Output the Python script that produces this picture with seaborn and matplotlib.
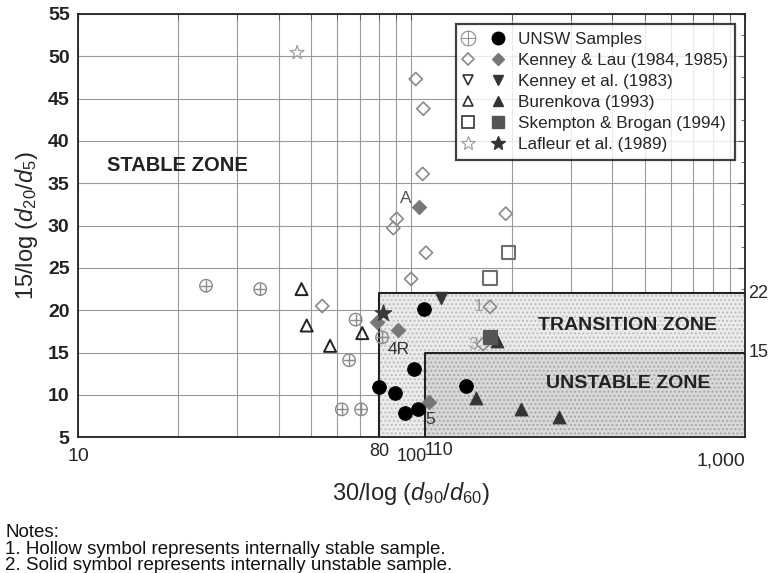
import matplotlib
matplotlib.use("Agg")
import matplotlib.pyplot as plt
import seaborn as sns
from matplotlib.patches import Polygon
from matplotlib.lines import Line2D
from matplotlib.legend_handler import HandlerTuple
from matplotlib.ticker import LogLocator, MultipleLocator, NullFormatter
import matplotlib.transforms as mtransforms

sns.set_style("white")
plt.rcParams['font.family'] = ['Liberation Sans', 'DejaVu Sans']
plt.rcParams['mathtext.fontset'] = 'custom'
plt.rcParams['mathtext.it'] = 'Liberation Sans:italic'
plt.rcParams['mathtext.rm'] = 'Liberation Sans'

# data
unsw_hollow_x = [24.2, 35.2, 68.0, 81.6, 65.0, 61.8, 70.6]
unsw_hollow_y = [22.9, 22.5, 18.9, 16.8, 14.1, 8.3, 8.3]
unsw_solid_x = [109, 102, 79.7, 89.2, 95.6, 104.4, 146]
unsw_solid_y = [20.1, 13.1, 10.9, 10.2, 7.9, 8.3, 11.0]
kl_hollow_x = [54, 99.7, 110.5, 103, 108.5, 108, 90.3, 88.2, 191.7, 172, 164]
kl_hollow_y = [20.5, 23.7, 26.8, 47.3, 43.8, 36.1, 30.8, 29.7, 31.4, 20.4, 16.0]
kl_solid_x = [105.5, 78.6, 91.3, 113]
kl_solid_y = [32.2, 18.6, 17.7, 9.2]
ke_solid_x = [122.6]
ke_solid_y = [21.4]
bu_hollow_x = [46.8, 48.5, 57, 71.2]
bu_hollow_y = [22.5, 18.2, 15.8, 17.3]
bu_solid_x = [180, 156, 213, 277]
bu_solid_y = [16.4, 9.7, 8.4, 7.4]
sb_hollow_x = [195, 172]
sb_hollow_y = [26.8, 23.8]
sb_solid_x = [172]
sb_solid_y = [16.9]
la_hollow_x = [45.4]
la_hollow_y = [50.4]
la_solid_x = [82.3]
la_solid_y = [19.7]

# zone limits
transition_x = 80
unstable_x = 110
transition_y = 22
unstable_y = 15
x_min, x_max = 10, 1000
y_min, y_max = 5, 55

fig = plt.figure(figsize=(7.75, 5.73), dpi=100)
ax = fig.add_axes([0.1006, 0.2368, 0.8607, 0.7391])
ax.set_xscale('log')
ax.set_xlim(x_min, x_max)
ax.set_ylim(y_min, y_max)

# grid
ax.xaxis.set_major_locator(LogLocator(base=10))
ax.xaxis.set_minor_locator(LogLocator(base=10, subs=range(2, 10)))
ax.xaxis.set_major_formatter(NullFormatter())
ax.xaxis.set_minor_formatter(NullFormatter())
ax.yaxis.set_major_locator(MultipleLocator(5))
ax.yaxis.set_minor_locator(MultipleLocator(2.5))
ax.grid(True, which='both', axis='x', color='#9a9a9a', lw=0.8)
ax.grid(True, which='major', axis='y', color='#9a9a9a', lw=0.8)
ax.tick_params(axis='both', which='both', direction='in', top=True, right=True,
               color='#555555')
ax.tick_params(axis='y', which='major', length=5, labelsize=14, pad=6)
ax.tick_params(axis='y', which='minor', length=3)
ax.tick_params(axis='x', which='both', length=4)
for t in ax.get_yticklabels():
    t.set_fontweight('bold')
    t.set_color('#222222')
for s in ax.spines.values():
    s.set_color('#222222')
    s.set_linewidth(1.3)

# zones
trans = Polygon([(transition_x, y_min), (transition_x, transition_y), (x_max, transition_y),
                 (x_max, y_min)], closed=True, facecolor='#ececec', edgecolor='#bdbdbd',
                hatch='....', lw=0, zorder=1.5)
ax.add_patch(trans)
unst = Polygon([(unstable_x, y_min), (unstable_x, unstable_y), (x_max, unstable_y),
                (x_max, y_min)], closed=True, facecolor='#d9d9d9', edgecolor='#a8a8a8',
               hatch='....', lw=0, zorder=1.6)
ax.add_patch(unst)
ax.plot([transition_x, transition_x, x_max], [y_min, transition_y, transition_y],
        color='#222222', lw=1.5, zorder=1.8)
ax.plot([unstable_x, unstable_x, x_max], [y_min, unstable_y, unstable_y],
        color='#222222', lw=1.5, zorder=1.8)

ax.text(0.044, 0.643, 'STABLE ZONE', transform=ax.transAxes, fontsize=14.5,
        fontweight='bold', color='#222222', va='center')
ax.text(0.958, 0.265, 'TRANSITION ZONE', transform=ax.transAxes, fontsize=14,
        fontweight='bold', color='#222222', va='center', ha='right')
ax.text(0.948, 0.126, 'UNSTABLE ZONE', transform=ax.transAxes, fontsize=14,
        fontweight='bold', color='#222222', va='center', ha='right')

# points
gh = '#8a8a8a'
sns.scatterplot(x=unsw_hollow_x, y=unsw_hollow_y, marker='o', s=80, facecolor='none',
                edgecolor=gh, linewidth=1.0, ax=ax, zorder=3)
sns.scatterplot(x=unsw_hollow_x, y=unsw_hollow_y, marker='+', s=80, color=gh,
                linewidth=1.0, ax=ax, zorder=3)
sns.scatterplot(x=unsw_solid_x, y=unsw_solid_y, marker='o', s=95, color='black',
                edgecolor='black', ax=ax, zorder=4)
sns.scatterplot(x=kl_hollow_x, y=kl_hollow_y, marker='D', s=45, facecolor='none',
                edgecolor=gh, linewidth=1.2, ax=ax, zorder=3)
sns.scatterplot(x=kl_solid_x, y=kl_solid_y, marker='D', s=55, color='#777777',
                edgecolor='#777777', ax=ax, zorder=4)
sns.scatterplot(x=ke_solid_x, y=ke_solid_y, marker='v', s=80, color='#333333',
                edgecolor='#333333', ax=ax, zorder=4)
sns.scatterplot(x=bu_hollow_x, y=bu_hollow_y, marker='^', s=75, facecolor='none',
                edgecolor='#222222', linewidth=1.4, ax=ax, zorder=3)
sns.scatterplot(x=bu_solid_x, y=bu_solid_y, marker='^', s=85, color='#333333',
                edgecolor='#333333', ax=ax, zorder=4)
sns.scatterplot(x=sb_hollow_x, y=sb_hollow_y, marker='s', s=90, facecolor='none',
                edgecolor='#6e6e6e', linewidth=1.5, ax=ax, zorder=3)
sns.scatterplot(x=sb_solid_x, y=sb_solid_y, marker='s', s=100, color='#555555',
                edgecolor='#555555', ax=ax, zorder=4)
sns.scatterplot(x=la_hollow_x, y=la_hollow_y, marker='*', s=110, facecolor='none',
                edgecolor='#a0a0a0', linewidth=0.9, ax=ax, zorder=3)
sns.scatterplot(x=la_solid_x, y=la_solid_y, marker='*', s=150, color='#3a3a3a',
                edgecolor='#3a3a3a', ax=ax, zorder=4)

# point labels
def lab(txt, x, y, dx, dy, c):
    ax.annotate(txt, (x, y), xytext=(dx, dy), textcoords='offset points', fontsize=12.5,
                color=c, ha='center', va='center', zorder=5)

lab('A', kl_solid_x[0], kl_solid_y[0], -10, 6, '#555555')
lab('4R', kl_solid_x[2], kl_solid_y[2], 0, -14, '#333333')
lab('5', kl_solid_x[3], kl_solid_y[3], 1, -13, '#333333')
lab('1', kl_hollow_x[9], kl_hollow_y[9], -8, 0, '#9a9a9a')
lab('3', kl_hollow_x[10], kl_hollow_y[10], -7, 0, '#9a9a9a')

# tick-like labels
xt = mtransforms.blended_transform_factory(ax.transData, ax.transAxes)
ax.text(10, -0.045, '10', transform=xt, ha='center', va='center', fontsize=14)
ax.text(1000, -0.057, '1,000', transform=xt, ha='right', va='center', fontsize=14)
ax.text(transition_x, -0.033, '80', transform=xt, ha='center', va='center', fontsize=13)
ax.text(100, -0.046, '100', transform=xt, ha='center', va='center', fontsize=13)
ax.text(unstable_x + 11, -0.03, '110', transform=xt, ha='center', va='center', fontsize=13)
yt = mtransforms.blended_transform_factory(ax.transAxes, ax.transData)
ax.text(1.005, transition_y, '22', transform=yt, ha='left', va='center', fontsize=13)
ax.text(1.005, unstable_y, '15', transform=yt, ha='left', va='center', fontsize=13)

ax.set_xlabel(r'30/log ($d_{90}$/$d_{60}$)', fontsize=17, labelpad=27)
ax.set_ylabel(r'15/log ($d_{20}$/$d_{5}$)', fontsize=17, labelpad=6)

# legend
def mk(m, fc, ec, ms, mew=1.0):
    return Line2D([], [], ls='none', marker=m, markerfacecolor=fc, markeredgecolor=ec,
                  markersize=ms, markeredgewidth=mew)

handles = [
    (mk(r'$\oplus$', gh, gh, 11, 0.3), mk('o', 'black', 'black', 9)),
    (mk('D', 'none', gh, 6.5, 1.2), mk('D', '#777777', '#777777', 6.5)),
    (mk('v', 'none', '#333333', 7.5, 1.2), mk('v', '#333333', '#333333', 7.5)),
    (mk('^', 'none', '#333333', 7.5, 1.2), mk('^', '#333333', '#333333', 7.5)),
    (mk('s', 'none', '#444444', 8, 1.3), mk('s', '#555555', '#555555', 8)),
    (mk('*', 'none', '#999999', 10, 0.8), mk('*', '#333333', '#333333', 10)),
]
labels = ['UNSW Samples', 'Kenney & Lau (1984, 1985)', 'Kenney et al. (1983)',
          'Burenkova (1993)', 'Skempton & Brogan (1994)', 'Lafleur et al. (1989)']
leg = ax.legend(handles, labels, handler_map={tuple: HandlerTuple(ndivide=None, pad=1.2)},
                loc='upper right', bbox_to_anchor=(0.99, 0.983), fontsize=12.3,
                frameon=True, fancybox=False, handlelength=2.3, handletextpad=0.9,
                labelspacing=0.36, borderpad=0.42, borderaxespad=0.2)
leg.get_frame().set_edgecolor('#111111')
leg.get_frame().set_linewidth(1.6)
leg.set_zorder(6)

# notes
nf = dict(fontsize=13.5, va='baseline', color='#111111')
fig.text(0.007, 1 - 537 / 573, 'Notes:', **nf)
fig.text(0.007, 1 - 554 / 573, '1. Hollow symbol represents internally stable sample.', **nf)
fig.text(0.007, 1 - 569.5 / 573, '2. Solid symbol represents internally unstable sample.', **nf)

fig.savefig('out.png', dpi=100)
